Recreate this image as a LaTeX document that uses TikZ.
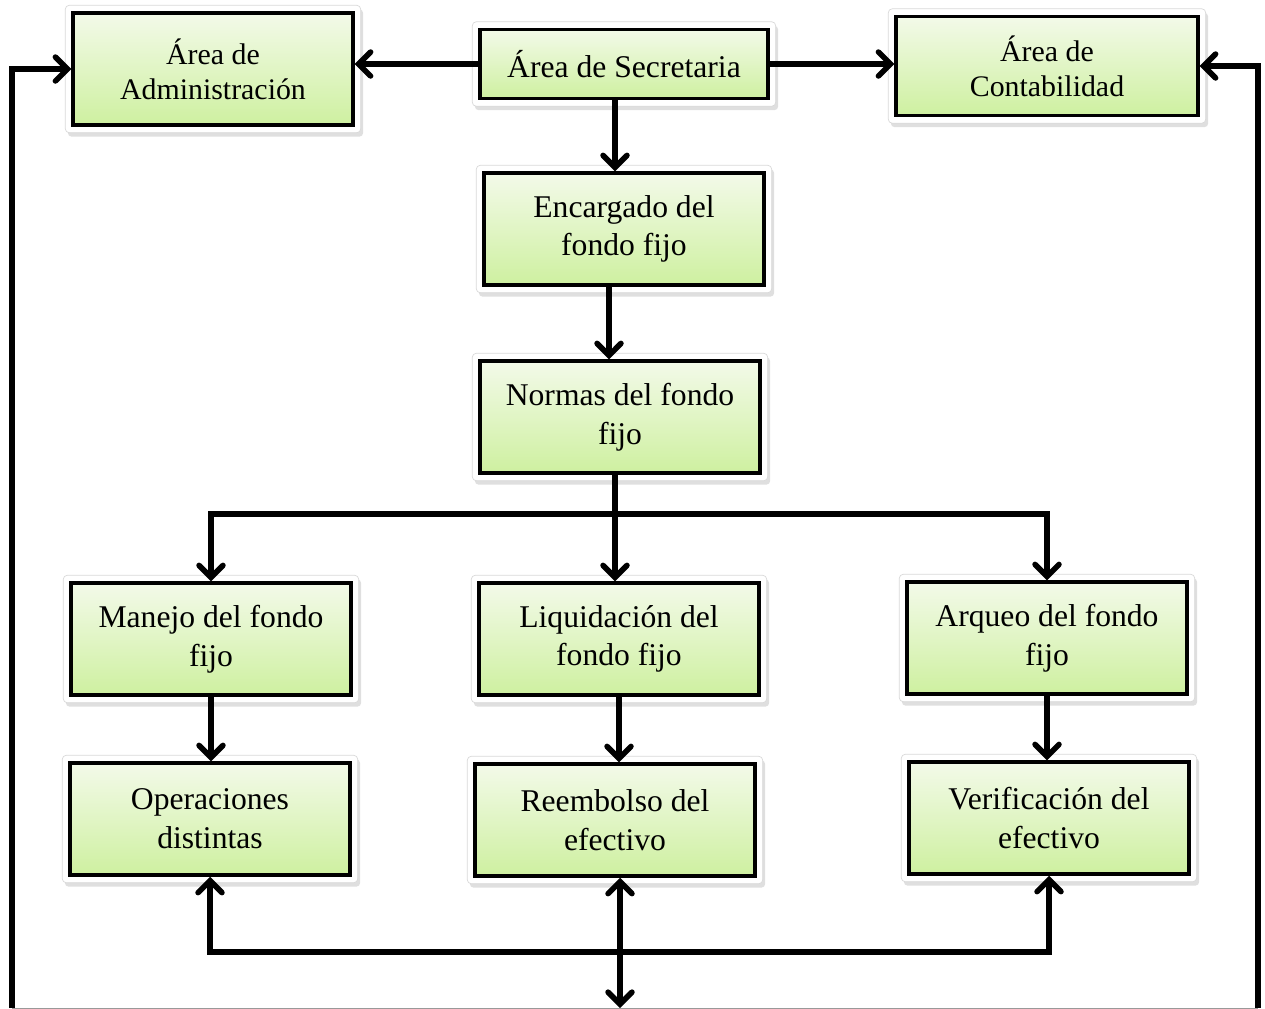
\documentclass[tikz,border=0pt]{standalone}
\usepackage{fontspec}
\setmainfont{Liberation Serif}
\usetikzlibrary{arrows.meta,backgrounds,fit,shadows}
\definecolor{verdeclaro}{RGB}{243,250,233}
\definecolor{verdeoscuro}{RGB}{206,240,160}
\tikzset{
  caja/.style={draw=black, line width=0.07cm, top color=verdeclaro, bottom color=verdeoscuro,
    minimum width=5.6cm, minimum height=2.24cm, align=center,
    font=\fontsize{18}{22}\selectfont},
  chica/.style={font=\fontsize{17}{20}\selectfont},
  marco/.style={fill=white, draw=black!15, rounded corners=0.08cm, inner sep=0.12cm,
    drop shadow={opacity=0.25, shadow xshift=0.05cm, shadow yshift=-0.08cm}},
  linea/.style={line width=0.11cm},
  flecha/.style={linea, -{Straight Barb[length=0.24cm,width=0.48cm,line cap=round]}},
  doble/.style={linea, {Straight Barb[length=0.24cm,width=0.48cm,line cap=round]}-{Straight Barb[length=0.24cm,width=0.48cm,line cap=round]}}
}
\begin{document}
\begin{tikzpicture}[x=0.02cm, y=-0.02cm]
  \useasboundingbox (0,0) rectangle (1265,1008);
  \node[caja, chica] (adm) at (213, 69) {Área de\\Administración};
  \node[caja, minimum width=5.76cm, minimum height=1.38cm] (sec) at (624, 64) {Área de Secretaria};
  \node[caja, chica, minimum width=6.04cm, minimum height=1.98cm] (con) at (1047, 66) {Área de\\Contabilidad};
  \node[caja] (enc) at (624, 229) {Encargado del\\fondo fijo};
  \node[caja] (nor) at (620, 417) {Normas del fondo\\fijo};
  \node[caja] (man) at (211, 639) {Manejo del fondo\\fijo};
  \node[caja] (liq) at (619, 639) {Liquidación del\\fondo fijo};
  \node[caja] (arq) at (1047, 638) {Arqueo del fondo\\fijo};
  \node[caja] (ope) at (210, 819) {Operaciones\\distintas};
  \node[caja] (ree) at (615, 820) {Reembolso del\\efectivo};
  \node[caja] (ver) at (1049, 818) {Verificación del\\efectivo};
  \coordinate (split) at (615, 514);
  \coordinate (base) at (620, 952);
  \coordinate (abajo) at (620, 1008);
  \coordinate (izq) at (12, 1008);
  \coordinate (der) at (1258, 1008);
  \begin{scope}[on background layer]
    \foreach \n in {adm,sec,con,enc,nor,man,liq,arq,ope,ree,ver} { \node[marco, fit=(\n)] {}; }
  \end{scope}
  \draw[flecha] (sec.west) -- (sec.west -| adm.east);
  \draw[flecha] (sec.east) -- (sec.east -| con.west);
  \draw[flecha] ([xshift=-0.18cm]sec.south) -- ([xshift=-0.18cm]sec.south |- enc.north);
  \draw[flecha] ([xshift=-0.3cm]enc.south) -- ([xshift=-0.3cm]enc.south |- nor.north);
  \draw[linea] (nor.south -| split) -- (split);
  \draw[flecha] (split) -| (man.north);
  \draw[flecha] (split) -| (arq.north);
  \draw[flecha] (split) -- (split |- liq.north);
  \foreach \u/\v in {man/ope,liq/ree,arq/ver} { \draw[flecha] (\u.south) -- (\u.south |- \v.north); }
  \draw[doble] (ope.south) |- (base) -| (ver.south);
  \draw[doble] (ree.south -| base) -- (abajo);
  \draw[flecha] (izq) |- (adm.west);
  \draw[flecha] (der) |- (con.east);
  \draw[black!40, thin] (izq) -- (der);
\end{tikzpicture}
\end{document}
